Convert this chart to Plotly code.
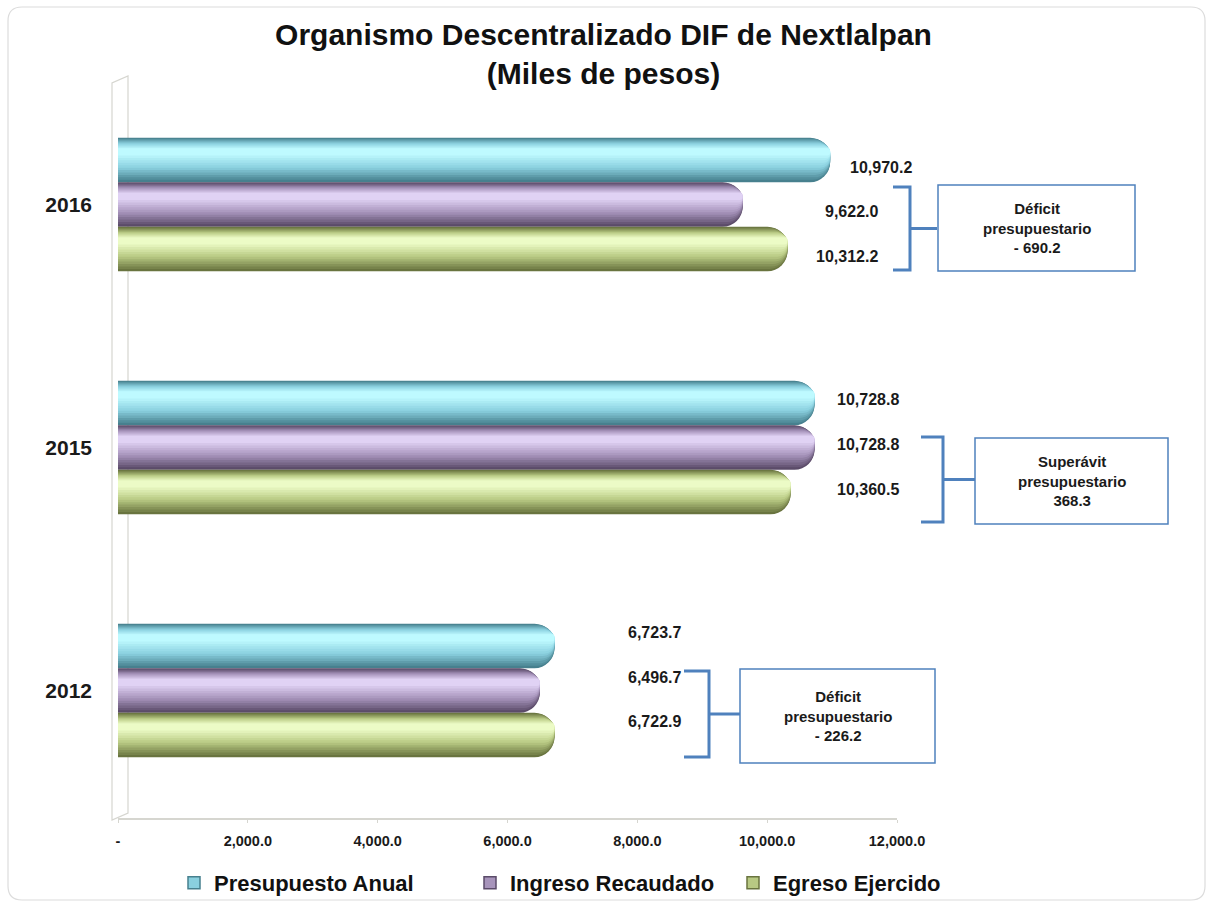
import plotly.graph_objects as go

# ---------------- data ----------------
years = ["2016", "2015", "2012"]
presupuesto = [10970.2, 10728.8, 6723.7]
ingreso = [9622.0, 10728.8, 6496.7]
egreso = [10312.2, 10360.5, 6722.9]
series_names = ["Presupuesto Anual", "Ingreso Recaudado", "Egreso Ejercido"]
x_tickvals = [0, 2000, 4000, 6000, 8000, 10000, 12000]
x_ticktext = ["-", "2,000.0", "4,000.0", "6,000.0", "8,000.0", "10,000.0", "12,000.0"]
balance_kind = ["Déficit", "Superávit", "Déficit"]

# ---------------- layout helpers ----------------
W, H = 1207, 906
ML, MT = 118, 83
PW, PH = 779, 735
MR, MB = W - ML - PW, H - MT - PH
UNIT = 243  # px per category


def px(x):
    return (x - ML) / PW


def py(y):
    return 1 - (y - MT) / PH


def hex2rgb(h):
    h = h.lstrip("#")
    return [int(h[i:i + 2], 16) for i in (0, 2, 4)]


def mix(c1, c2, t):
    a, b = hex2rgb(c1), hex2rgb(c2)
    return "rgb(%d,%d,%d)" % tuple(round(a[i] + (b[i] - a[i]) * t) for i in range(3))


FONT = "Liberation Sans, Arial, sans-serif"
series_vals = [presupuesto, ingreso, egreso]
# (dark edge, mid tone, highlight)
palettes = [
    ("#47808e", "#8ad0df", "#befaff"),
    ("#5b4b69", "#a794bb", "#e0d2f4"),
    ("#69743f", "#b8c983", "#ecfbc6"),
]
NB = 12
group_w = 0.55
bar_w = group_w / 3

fig = go.Figure()
for k, (name, vals, pal) in enumerate(zip(series_names, series_vals, palettes)):
    start = -group_w / 2 + k * bar_w
    for j in range(NB):
        s = j / (NB - 1)
        a = 0.24 * s
        b = 1 - 0.60 * s
        col = mix(pal[0], pal[1], s * 2) if s <= 0.5 else mix(pal[1], pal[2], (s - 0.5) * 2)
        fig.add_trace(go.Bar(
            y=years, x=vals, orientation="h",
            offset=start + a * bar_w, width=(b - a) * bar_w,
            marker=dict(color=col, line=dict(width=0), cornerradius="45%"),
            name=name, showlegend=False, hoverinfo="x+name",
        ))

# legend proxies (one legend per series, so each entry can be placed)
legend_ids = ["legend", "legend2", "legend3"]
for k, name in enumerate(series_names):
    fig.add_trace(go.Bar(
        y=[None], x=[None], orientation="h", name=name,
        marker=dict(color=palettes[k][1], line=dict(color=palettes[k][0], width=1.5)),
        showlegend=True, legend=legend_ids[k],
    ))

# data labels (positions in px: anchor x, xanchor)
label_pos = {
    "2016": [(848, "left"), (880, "right"), (880, "right")],
    "2015": [(835, "left"), (835, "left"), (835, "left")],
    "2012": [(683, "right"), (683, "right"), (683, "right")],
}
annotations = []
for i, yr in enumerate(years):
    center = MT + (i + 0.5) * UNIT
    for k in range(3):
        cy = center + (-group_w / 2 + (k + 0.5) * bar_w) * UNIT
        xpx, anc = label_pos[yr][k]
        annotations.append(dict(
            xref="paper", yref="paper", x=px(xpx), y=py(cy - 3),
            text=f"{series_vals[k][i]:,.1f}", showarrow=False, xanchor=anc,
            font=dict(family=FONT, size=16, color="#1a1a1a", weight="bold"),
        ))

# brackets + boxes (pixel geometry)
boxes = {
    "2016": dict(bx=910, btop=187, bbot=270, bl=893, stub=937, box=(938, 185, 1135, 271)),
    "2015": dict(bx=943, btop=437, bbot=522, bl=921, stub=975, box=(975, 438, 1168, 524)),
    "2012": dict(bx=709, btop=671, bbot=757, bl=684, stub=740, box=(740, 669, 935, 763)),
}
shapes = []
BLUE = "#4f81bd"
for i, yr in enumerate(years):
    g = boxes[yr]
    mid = (g["btop"] + g["bbot"]) / 2
    path = (f"M{px(g['bl'])},{py(g['btop'])} L{px(g['bx'])},{py(g['btop'])} "
            f"L{px(g['bx'])},{py(g['bbot'])} L{px(g['bl'])},{py(g['bbot'])} "
            f"M{px(g['bx'])},{py(mid)} L{px(g['stub'])},{py(mid)}")
    shapes.append(dict(type="path", xref="paper", yref="paper", path=path,
                       line=dict(color=BLUE, width=3)))
    x0, y0, x1, y1 = g["box"]
    shapes.append(dict(type="rect", xref="paper", yref="paper",
                       x0=px(x0), x1=px(x1), y0=py(y0), y1=py(y1),
                       line=dict(color=BLUE, width=1.5), fillcolor="white"))
    diff = ingreso[i] - egreso[i]
    val = f"- {abs(diff):,.1f}" if diff < 0 else f"{diff:,.1f}"
    annotations.append(dict(
        xref="paper", yref="paper", x=px((x0 + x1) / 2), y=py((y0 + y1) / 2),
        text=f"{balance_kind[i]}<br>presupuestario<br>{val}", showarrow=False,
        xanchor="center", yanchor="middle",
        font=dict(family=FONT, size=15, color="#1a1a1a", weight="bold"),
    ))

# 3D left wall
wall = (f"M{px(112)},{py(820)} L{px(112)},{py(83)} L{px(128)},{py(76)} "
        f"L{px(128)},{py(813)} Z")
shapes.append(dict(type="path", xref="paper", yref="paper", path=wall,
                   line=dict(color="#d6d6d0", width=1.2), layer="below"))

# outer rounded border
r = 14
L, T, R, B = 8, 7, 1205, 900
border = (f"M{px(L + r)},{py(T)} L{px(R - r)},{py(T)} Q{px(R)},{py(T)} {px(R)},{py(T + r)} "
          f"L{px(R)},{py(B - r)} Q{px(R)},{py(B)} {px(R - r)},{py(B)} "
          f"L{px(L + r)},{py(B)} Q{px(L)},{py(B)} {px(L)},{py(B - r)} "
          f"L{px(L)},{py(T + r)} Q{px(L)},{py(T)} {px(L + r)},{py(T)} Z")
shapes.append(dict(type="path", xref="paper", yref="paper", path=border,
                   line=dict(color="#dcdcdc", width=1.2), layer="below"))

legend_common = dict(orientation="h", xref="container", yref="container",
                     xanchor="left", yanchor="middle", y=1 - 883 / H,
                     bgcolor="rgba(0,0,0,0)",
                     font=dict(family=FONT, size=22, color="#111111", weight="bold"),
                     itemclick=False, itemdoubleclick=False)
legend_x = [174, 470, 733]

fig.update_layout(
    width=W, height=H,
    margin=dict(l=ML, r=MR, t=MT, b=MB, autoexpand=False),
    paper_bgcolor="white", plot_bgcolor="white",
    barmode="overlay",
    title=dict(text="Organismo Descentralizado DIF de Nextlalpan<br>(Miles de pesos)",
               x=0.5, xref="container", xanchor="center", y=1 - 45 / H, yanchor="middle",
               font=dict(family=FONT, size=30, color="#111111", weight="bold")),
    xaxis=dict(range=[0, 12000], tickvals=x_tickvals, ticktext=x_ticktext,
               showgrid=False, zeroline=False, showline=True, linecolor="#d6d6d0",
               linewidth=1.5, ticks="outside", ticklen=3, tickcolor="#d6d6d0",
               ticklabelstandoff=6,
               tickfont=dict(family=FONT, size=14.5, color="#1a1a1a", weight="bold")),
    yaxis=dict(categoryorder="array", categoryarray=years,
               range=[(PH / UNIT) - 0.5, -0.5],
               showgrid=False, zeroline=False, showline=False, ticks="",
               ticklabelstandoff=25,
               tickfont=dict(family=FONT, size=21, color="#1a1a1a", weight="bold")),
    legend=dict(x=legend_x[0] / W, **legend_common),
    legend2=dict(x=legend_x[1] / W, **legend_common),
    legend3=dict(x=legend_x[2] / W, **legend_common),
    annotations=annotations,
    shapes=shapes,
)

fig.write_html("out.html", config={"displayModeBar": False},
               post_script="document.body.style.margin='0px';")
